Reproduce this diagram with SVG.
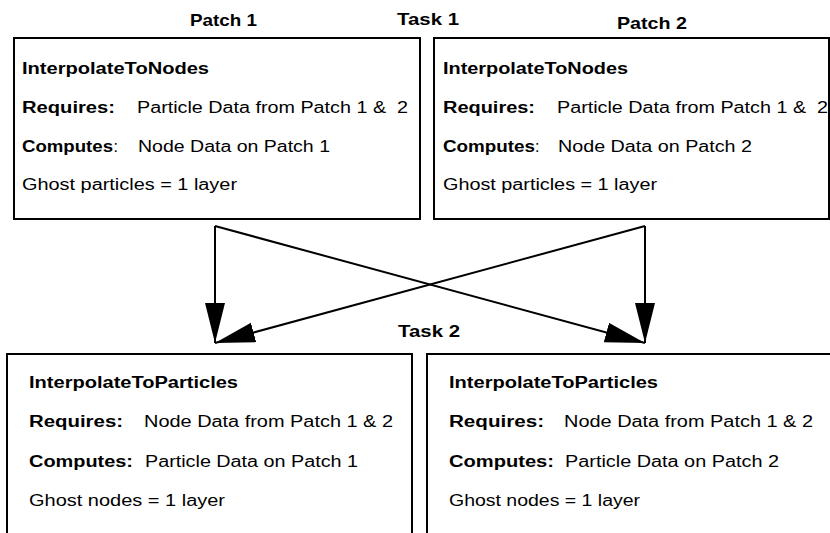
<svg xmlns="http://www.w3.org/2000/svg" width="830" height="533" viewBox="0 0 830 533">
<defs>
<style>
.box{fill:#fff;stroke:#000;stroke-width:2}
.t{font-family:"Liberation Sans",Arial,sans-serif;font-size:16px;fill:#000}
.b{font-weight:bold}
.h{font-family:"Liberation Sans",Arial,sans-serif;font-size:17px;font-weight:bold;fill:#000}
.c{fill:none;stroke:#000;stroke-width:2}
.pre{white-space:pre}
</style>
<marker id="ah" markerUnits="userSpaceOnUse" markerWidth="42" markerHeight="22" refX="40" refY="10" orient="auto" viewBox="0 0 42 22">
<path d="M0,0 L40,10 L0,20 z" fill="#000"/>
</marker>
</defs>
<rect width="830" height="533" fill="#fff"/>
<g id="labels">
<text class="h" x="190" y="26" textLength="67" lengthAdjust="spacingAndGlyphs">Patch 1</text>
<text class="h" x="397" y="25" textLength="62" lengthAdjust="spacingAndGlyphs">Task 1</text>
<text class="h" x="617" y="29" textLength="70" lengthAdjust="spacingAndGlyphs">Patch 2</text>
<text class="h" x="398" y="336.5" textLength="62" lengthAdjust="spacingAndGlyphs">Task 2</text>
</g>
<g id="node-p1-task1">
<rect class="box" x="14" y="38" width="406" height="181"/>
<text class="t b" x="22" y="73.5" textLength="187" lengthAdjust="spacingAndGlyphs">InterpolateToNodes</text>
<text class="t b" x="22" y="113" textLength="93" lengthAdjust="spacingAndGlyphs">Requires:</text>
<text class="t pre" xml:space="preserve" x="137" y="113" textLength="271" lengthAdjust="spacingAndGlyphs">Particle Data from Patch 1 &amp;  2</text>
<text class="t b" x="22" y="151.5" textLength="91" lengthAdjust="spacingAndGlyphs">Computes</text>
<text class="t" x="113.5" y="151.5">:</text>
<text class="t" x="138" y="151.5" textLength="192" lengthAdjust="spacingAndGlyphs">Node Data on Patch 1</text>
<text class="t" x="22" y="190" textLength="215" lengthAdjust="spacingAndGlyphs">Ghost particles = 1 layer</text>
</g>
<g id="node-p2-task1">
<rect class="box" x="434" y="38" width="395" height="181"/>
<text class="t b" x="443" y="73.5" textLength="185" lengthAdjust="spacingAndGlyphs">InterpolateToNodes</text>
<text class="t b" x="443" y="113" textLength="92" lengthAdjust="spacingAndGlyphs">Requires:</text>
<text class="t pre" xml:space="preserve" x="557" y="113" textLength="271" lengthAdjust="spacingAndGlyphs">Particle Data from Patch 1 &amp;  2</text>
<text class="t b" x="443" y="151.5" textLength="92" lengthAdjust="spacingAndGlyphs">Computes</text>
<text class="t" x="535" y="151.5">:</text>
<text class="t" x="558" y="151.5" textLength="194" lengthAdjust="spacingAndGlyphs">Node Data on Patch 2</text>
<text class="t" x="443" y="190" textLength="214" lengthAdjust="spacingAndGlyphs">Ghost particles = 1 layer</text>
</g>
<g id="node-p1-task2">
<rect class="box" x="7" y="354" width="405" height="200"/>
<text class="t b" x="29" y="387.5" textLength="209" lengthAdjust="spacingAndGlyphs">InterpolateToParticles</text>
<text class="t b" x="29" y="427" textLength="94" lengthAdjust="spacingAndGlyphs">Requires:</text>
<text class="t" x="144" y="427" textLength="249" lengthAdjust="spacingAndGlyphs">Node Data from Patch 1 &amp; 2</text>
<text class="t b" x="29" y="466.5" textLength="104" lengthAdjust="spacingAndGlyphs">Computes:</text>
<text class="t" x="145" y="466.5" textLength="213" lengthAdjust="spacingAndGlyphs">Particle Data on Patch 1</text>
<text class="t" x="29" y="506" textLength="196" lengthAdjust="spacingAndGlyphs">Ghost nodes = 1 layer</text>
</g>
<g id="node-p2-task2">
<rect class="box" x="427" y="354" width="420" height="200"/>
<text class="t b" x="449" y="387.5" textLength="209" lengthAdjust="spacingAndGlyphs">InterpolateToParticles</text>
<text class="t b" x="449" y="427" textLength="95" lengthAdjust="spacingAndGlyphs">Requires:</text>
<text class="t" x="564" y="427" textLength="249" lengthAdjust="spacingAndGlyphs">Node Data from Patch 1 &amp; 2</text>
<text class="t b" x="449" y="466.5" textLength="105" lengthAdjust="spacingAndGlyphs">Computes:</text>
<text class="t" x="565" y="466.5" textLength="214" lengthAdjust="spacingAndGlyphs">Particle Data on Patch 2</text>
<text class="t" x="449" y="506" textLength="191" lengthAdjust="spacingAndGlyphs">Ghost nodes = 1 layer</text>
</g>
<g id="connectors">
<path class="c" d="M215,226 L215,343" marker-end="url(#ah)"/>
<path class="c" d="M215,226 L645,343" marker-end="url(#ah)"/>
<path class="c" d="M645,226 L645,343" marker-end="url(#ah)"/>
<path class="c" d="M645,226 L215,343" marker-end="url(#ah)"/>
</g>
</svg>
